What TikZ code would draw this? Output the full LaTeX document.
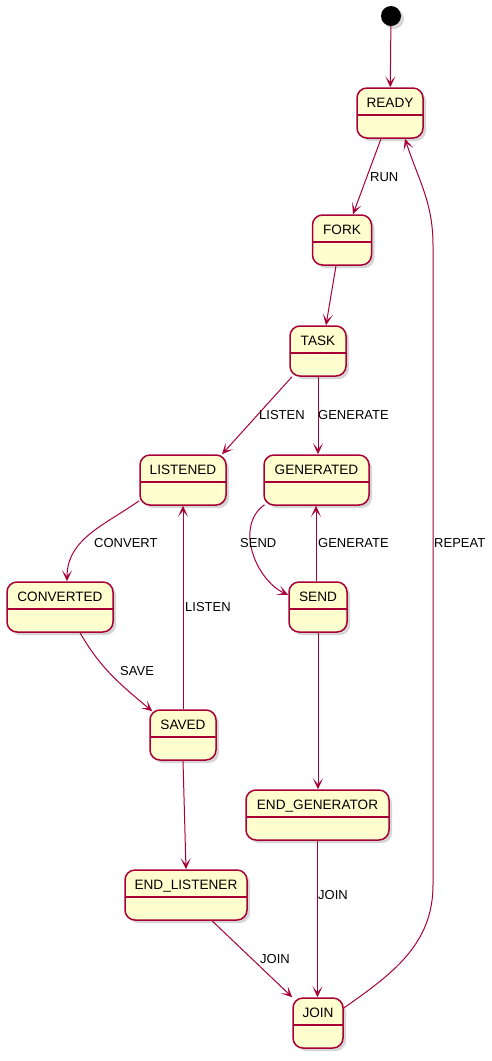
\documentclass[tikz,border=0pt]{standalone}
\usepackage{fontspec}
\setmainfont{Liberation Sans}
\usepackage{tikz}
\usetikzlibrary{arrows.meta,positioning,shadows,calc}
\definecolor{umlred}{HTML}{A80036}
\definecolor{umlfill}{HTML}{FEFECE}

\begin{document}
\begin{tikzpicture}[
  x=1pt, y=-1pt,
  statebox/.style={draw=umlred, fill=umlfill, line width=1.5pt, rounded corners=10pt,
    minimum height=50pt, minimum width=#1, inner xsep=0pt, inner ysep=9pt,
    text height=10pt, text depth=22pt, font=\fontsize{13.6}{15}\selectfont,
    drop shadow={shadow xshift=3pt, shadow yshift=-3pt, fill=black!40, opacity=0.4},
    path picture={\draw[umlred, line width=1.5pt]
      ([yshift=-27pt]path picture bounding box.north west) --
      ([yshift=-27pt]path picture bounding box.north east);}},
  statebox/.default=60pt,
  trans/.style={draw=umlred, line width=1pt, -{Stealth[length=11pt, width=10pt, inset=6pt]}},
  lbl/.style={font=\fontsize{13}{15}\selectfont, anchor=west, inner sep=0pt},
]
\useasboundingbox (0,0) rectangle (492,1061);

% ===================== States =====================
\node[circle, fill=black, minimum size=20pt, inner sep=0pt,
  drop shadow={shadow xshift=3pt, shadow yshift=-3pt, fill=black!40, opacity=0.4}] (start) at (391,16) {};

\node[statebox=66pt] (ready) at (390,113) {READY};
\node[statebox=59pt] (fork) at (342,240) {FORK};
\node[statebox=56pt] (task) at (318,351) {TASK};

\node[statebox=86pt] (listened) at (183,480) {LISTENED};
\node[statebox=105pt] (generated) at (316.5,480) {GENERATED};

\node[statebox=106pt] (converted) at (60,607) {CONVERTED};
\node[statebox=58pt] (send) at (318,607) {SEND};

\node[statebox=66pt] (saved) at (183,735) {SAVED};
\node[statebox=143pt] (endgen) at (317.5,815) {END\_GENERATOR};
\node[statebox=122pt] (endlis) at (186,895) {END\_LISTENER};

\node[statebox=50pt] (join) at (318,1023) {JOIN};

% ===================== Transitions =====================
\draw[trans] (start) -- (ready);

\draw[trans] ([xshift=-9pt]ready.south) -- ([xshift=11pt]fork.north);
\node[lbl] (lblRun) at (370,177) {RUN};

\draw[trans] ([xshift=-6pt]fork.south) -- ([xshift=8pt]task.north);

\draw[trans] ([xshift=-26pt]task.south) -- ([xshift=39pt]listened.north);
\node[lbl] (lblListen) at (259,415) {LISTEN};

\draw[trans] (task.south) -- (task.south |- generated.north);
\node[lbl] (lblGenerate) at (318,415) {GENERATE};

\draw[trans] ([yshift=5pt]listened.south west) to[out=215, in=90] ([xshift=7pt]converted.north);
\node[lbl] (lblConvert) at (94,543) {CONVERT};

\draw[trans] ([xshift=-52pt, yshift=1pt]generated.south) to[out=215, in=155] ([yshift=12pt]send.west);
\node[lbl] (lblSend) at (240,543) {SEND};

\draw[trans] ([xshift=-2pt]send.north) -- ([xshift=-2pt]send.north |- generated.south);
\node[lbl] (lblGenerateBack) at (318,543) {GENERATE};

\draw[trans] ([xshift=20pt]converted.south) to[out=-60, in=140] ([xshift=3pt, yshift=-2pt]saved.north west);
\node[lbl] (lblSave) at (120,671) {SAVE};

\draw[trans] (saved.north) -- (listened.south);
\node[lbl] (lblListenBack) at (185,607) {LISTEN};

\draw[trans] (saved.south) -- (endlis.north);

\draw[trans] (send.south) -- (send.south |- endgen.north);

\draw[trans] (endgen.south) -- (endgen.south |- join.north);
\node[lbl] (lblJoinGen) at (318,895) {JOIN};

\draw[trans] ([xshift=26pt]endlis.south) -- (join.north west);
\node[lbl] (lblJoinLis) at (260,959) {JOIN};

% REPEAT loop back up the right side
\coordinate (rbot) at (433,885);
\coordinate (rtop) at (433,245);
\draw[trans] ([yshift=15pt]join.east) to[out=35, in=-90] (rbot) -- (rtop)
  to[out=90, in=-72] ([xshift=15pt]ready.south);
\node[lbl] (lblRepeat) at (434,543) {REPEAT};

\end{tikzpicture}
\end{document}
